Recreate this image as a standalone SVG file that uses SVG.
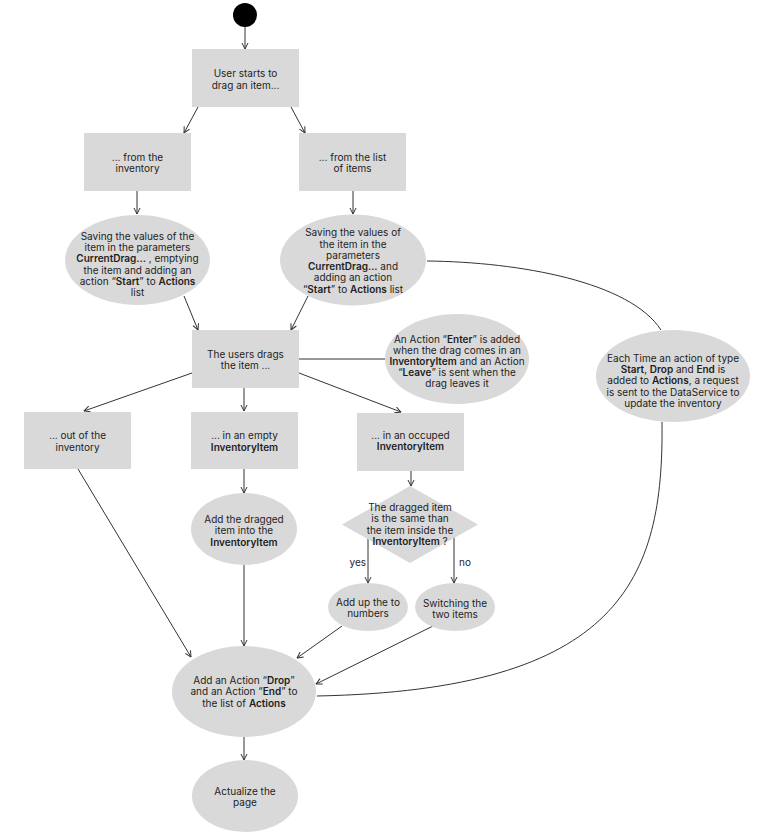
<svg xmlns="http://www.w3.org/2000/svg" width="778" height="836" viewBox="0 0 778 836">
<defs>
<marker id="arr" viewBox="0 0 8 8" refX="7.5" refY="4" markerWidth="8" markerHeight="8" markerUnits="userSpaceOnUse" orient="auto">
<path d="M1.5,1 L7.5,4 L1.5,7" fill="none" stroke="#333" stroke-width="1"/>
</marker>
<style>
.n{fill:#d9d9d9;}
.t{font-family:Inter,"Noto Sans","Liberation Sans",sans-serif;font-size:10px;fill:#1e1e1e;text-anchor:middle;}
.b{font-weight:600;}
.c{fill:none;stroke:#333;stroke-width:1;}
.a{marker-end:url(#arr);}
</style>
</defs>
<rect width="778" height="836" fill="#fff"/>
<g id="connectors">
<line class="c a" x1="245" y1="27" x2="245" y2="49"/>
<line class="c a" x1="198" y1="107" x2="184" y2="133"/>
<line class="c a" x1="291" y1="107" x2="305" y2="133"/>
<line class="c a" x1="137" y1="191" x2="137" y2="214"/>
<line class="c a" x1="353" y1="191" x2="353" y2="214"/>
<line class="c a" x1="184" y1="296" x2="198" y2="330"/>
<line class="c a" x1="308" y1="296" x2="291" y2="330"/>
<line class="c" x1="299" y1="359" x2="385" y2="359"/>
<path class="c" d="M427,261 C520,262 630,282 661,330"/>
<line class="c a" x1="192" y1="373" x2="84" y2="411"/>
<line class="c a" x1="244" y1="388" x2="244" y2="411"/>
<line class="c a" x1="299" y1="373" x2="401" y2="412"/>
<line class="c a" x1="244" y1="469" x2="244" y2="493"/>
<line class="c a" x1="411" y1="471" x2="411" y2="486"/>
<line class="c a" x1="368" y1="537" x2="368" y2="583"/>
<line class="c a" x1="454" y1="537" x2="454" y2="583"/>
<line class="c a" x1="78" y1="469" x2="191" y2="657"/>
<line class="c a" x1="244" y1="565" x2="244" y2="646"/>
<line class="c a" x1="342" y1="626" x2="297" y2="658"/>
<line class="c a" x1="433" y1="626" x2="316" y2="684"/>
<path class="c" d="M662,422 C664,580 620,690 317,696"/>
<line class="c a" x1="244" y1="737" x2="244" y2="760"/>
<text class="t" x="366" y="566" style="text-anchor:end">yes</text>
<text class="t" x="459" y="566" style="text-anchor:start">no</text>
</g>
<g id="start"><circle cx="245" cy="15" r="12" fill="#000"/></g>
<g id="n1"><rect class="n" x="192" y="49" width="107" height="58"/>
<text class="t" x="245.5" y="76.5">User starts to</text><text class="t" x="245.5" y="88.5">drag an item...</text></g>
<g id="n2"><rect class="n" x="84" y="133" width="107" height="58"/>
<text class="t" x="137.5" y="160.5">... from the</text><text class="t" x="137.5" y="171.5">inventory</text></g>
<g id="n3"><rect class="n" x="299" y="133" width="107" height="58"/>
<text class="t" x="352.5" y="160.5">... from the list</text><text class="t" x="352.5" y="171.5">of items</text></g>
<g id="n4"><ellipse class="n" cx="137.5" cy="260" rx="72.5" ry="45"/>
<text class="t" x="137.5" y="239.5">Saving the values of the</text>
<text class="t" x="137.5" y="250.5">item in the parameters</text>
<text class="t" x="137.5" y="261.5"><tspan class="b">CurrentDrag...</tspan> , emptying</text>
<text class="t" x="137.5" y="273.5">the item and adding an</text>
<text class="t" x="137.5" y="284.5">action “<tspan class="b">Start</tspan>” to <tspan class="b">Actions</tspan></text>
<text class="t" x="137.5" y="295.5">list</text></g>
<g id="n5"><ellipse class="n" cx="353" cy="260" rx="73" ry="45.5"/>
<text class="t" x="353" y="235.5">Saving the values of</text>
<text class="t" x="353" y="247.5">the item in the</text>
<text class="t" x="353" y="258.5">parameters</text>
<text class="t" x="353" y="269.5"><tspan class="b">CurrentDrag...</tspan> and</text>
<text class="t" x="353" y="280.5">adding an action</text>
<text class="t" x="353" y="292.5">“<tspan class="b">Start</tspan>” to <tspan class="b">Actions</tspan> list</text></g>
<g id="n6"><rect class="n" x="192" y="330" width="107" height="58"/>
<text class="t" x="245.5" y="357.5">The users drags</text><text class="t" x="245.5" y="368.5">the item ...</text></g>
<g id="n7"><ellipse class="n" cx="457" cy="359" rx="72" ry="45"/>
<text class="t" x="457" y="342.5">An Action “<tspan class="b">Enter</tspan>” is added</text>
<text class="t" x="457" y="353.5">when the drag comes in an</text>
<text class="t" x="457" y="364.5"><tspan class="b">InventoryItem</tspan> and an Action</text>
<text class="t" x="457" y="375.5">“<tspan class="b">Leave</tspan>” is sent when the</text>
<text class="t" x="457" y="386.5">drag leaves it</text></g>
<g id="n8"><ellipse class="n" cx="673" cy="376" rx="77" ry="46"/>
<text class="t" x="673" y="361.5">Each Time an action of type</text>
<text class="t" x="673" y="372.5"><tspan class="b">Start</tspan>, <tspan class="b">Drop</tspan> and <tspan class="b">End</tspan>  is</text>
<text class="t" x="673" y="383.5">added to <tspan class="b">Actions</tspan>, a request</text>
<text class="t" x="673" y="395.5">is sent to the DataService to</text>
<text class="t" x="673" y="406.5">update the inventory</text></g>
<g id="n9"><rect class="n" x="24" y="412" width="107" height="57"/>
<text class="t" x="77.5" y="438.5">... out of the</text><text class="t" x="77.5" y="450.5">inventory</text></g>
<g id="n10"><rect class="n" x="191" y="412" width="107" height="57"/>
<text class="t" x="244.5" y="438.5">... in an empty</text><text class="t b" x="244.5" y="450.5">InventoryItem</text></g>
<g id="n11"><rect class="n" x="357" y="413" width="107" height="58"/>
<text class="t" x="410.5" y="438.5">... in an occuped</text><text class="t b" x="410.5" y="449.5">InventoryItem</text></g>
<g id="n12"><ellipse class="n" cx="244" cy="529" rx="53" ry="36"/>
<text class="t" x="244" y="522.5">Add the dragged</text>
<text class="t" x="244" y="533.5">item into the</text>
<text class="t b" x="244" y="545.5">InventoryItem</text></g>
<g id="n13"><polygon class="n" points="410,486 478,524.5 410,563 342,524.5"/>
<text class="t" x="410" y="510.5">The dragged item</text>
<text class="t" x="410" y="521.5">is the same than</text>
<text class="t" x="410" y="533.5">the item inside the</text>
<text class="t" x="410" y="544.5"><tspan class="b">InventoryItem</tspan> ?</text></g>
<g id="n14"><ellipse class="n" cx="368" cy="607" rx="40" ry="24"/>
<text class="t" x="368" y="605.5">Add up the to</text><text class="t" x="368" y="616.5">numbers</text></g>
<g id="n15"><ellipse class="n" cx="455" cy="607" rx="40" ry="24"/>
<text class="t" x="455" y="606.5">Switching the</text><text class="t" x="455" y="617.5">two items</text></g>
<g id="n16"><ellipse class="n" cx="244" cy="691.5" rx="72" ry="45.5"/>
<text class="t" x="244" y="683.5">Add an Action “<tspan class="b">Drop</tspan>”</text>
<text class="t" x="244" y="694.5">and an Action “<tspan class="b">End</tspan>” to</text>
<text class="t" x="244" y="706.5">the list of <tspan class="b">Actions</tspan></text></g>
<g id="n17"><ellipse class="n" cx="245" cy="796" rx="53" ry="36"/>
<text class="t" x="245" y="794.5">Actualize the</text><text class="t" x="245" y="805.5">page</text></g>
</svg>
